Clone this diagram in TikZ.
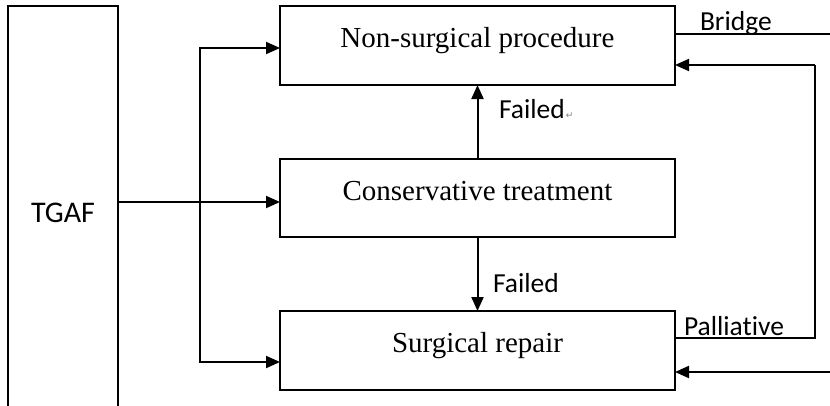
\documentclass[tikz,border=0pt]{standalone}
\usepackage{fontspec}
\setmainfont{Liberation Serif}
\newfontfamily\lblfont[RawFeature=-liga]{Carlito}
\newfontfamily\symfont{DejaVu Sans}
\usetikzlibrary{arrows.meta}
\begin{document}
\begin{tikzpicture}[x=1pt,y=-1pt,
  every node/.style={inner sep=0pt,outer sep=0pt},
  box/.style={draw,line width=2pt,minimum width=395pt,minimum height=78pt,
    font=\fontsize{29}{31}\selectfont,text height=20pt,text depth=16pt},
  lbl/.style={font=\lblfont\fontsize{27.5}{30}\selectfont,anchor=base west},
  conn/.style={line width=2pt},
  arr/.style={conn,-{Triangle[length=14pt,width=12pt]}}]
\useasboundingbox[fill=white] (0,0) rectangle (830,405);
\node[draw,line width=2pt,minimum width=110pt,minimum height=414pt,
  font=\lblfont\fontsize{30}{32}\selectfont,text height=18pt,text depth=0pt]
  (tgaf) at (63,213) {TGAF};
\node[box,minimum height=79pt] (ns) at (477.5,45.5) {Non-surgical procedure};
\node[box] (cons) at (477.5,198) {Conservative treatment};
\node[box,minimum height=79pt] (surg) at (477.5,350.5) {Surgical repair};
\coordinate (br) at (200,202);
\coordinate (bridgeend) at (835,34);
\coordinate (inend) at (835,372);
\coordinate (rtop) at (815,65);
\coordinate (rbot) at (815,338);
% left branch
\draw[conn] (tgaf.east |- br) -- (br);
\draw[arr] (br) -- ([yshift=-4pt]cons.west);
\draw[arr] (br) |- ([yshift=-2.5pt]ns.west);
\draw[arr] (br) |- ([yshift=-11.5pt]surg.west);
% failed arrows
\draw[arr] (cons.north) -- (ns.south);
\draw[arr] (cons.south) -- (surg.north);
\node[lbl] (f1) at (499,118) {Failed};
\node[anchor=base west,font=\symfont\fontsize{9}{10}\selectfont,text=gray] (pm) at ([xshift=1pt]f1.base east) {↵};
\node[lbl] (f2) at (493,292) {Failed};
% right side
\draw[conn] ([yshift=11.5pt]ns.east) -- (bridgeend);
\node[lbl] (bridge) at (700,30) {Bridge};
\draw[conn] ([yshift=12.5pt]surg.east) -| (rtop);
\draw[arr] (rtop) -- ([yshift=-19.5pt]ns.east);
\node[lbl] (pall) at (684,335) {Palliative};
\draw[arr] (inend) -- ([yshift=-21.5pt]surg.east);
\end{tikzpicture}
\end{document}
